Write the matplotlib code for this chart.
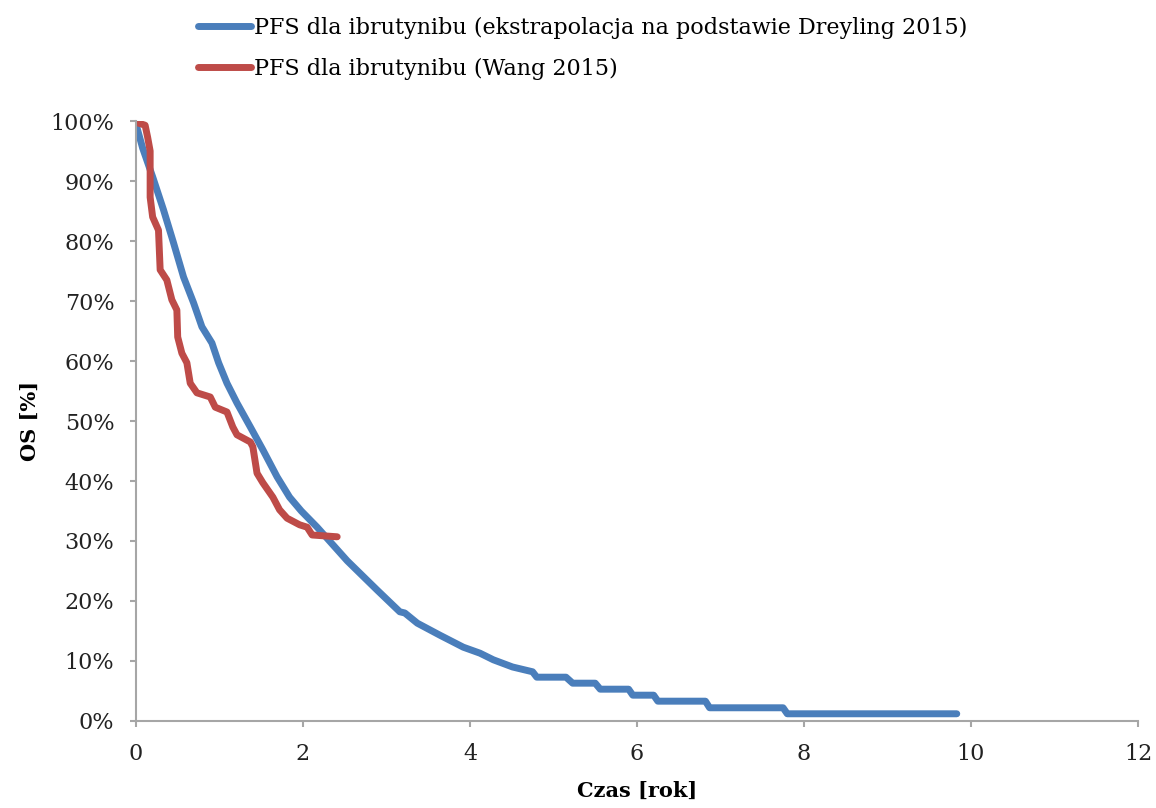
import matplotlib.pyplot as plt
from matplotlib.ticker import FuncFormatter

# czas [rok] i OS [%]
czas_dreyling = [0.0, 0.03, 0.08, 0.2, 0.33, 0.45, 0.57, 0.69, 0.79, 0.91, 0.99,
                 1.09, 1.21, 1.37, 1.52, 1.69, 1.84, 1.98, 2.17, 2.53, 2.89, 3.16,
                 3.22, 3.37, 3.64, 3.92, 4.12, 4.28, 4.51, 4.75, 4.8, 5.15, 5.23,
                 5.5, 5.56, 5.9, 5.95, 6.2, 6.25, 6.82, 6.87, 7.75, 7.8, 9.83]
os_dreyling = [99.5, 98.0, 95.5, 90.7, 85.2, 79.7, 74.0, 69.7, 65.7, 63.0, 59.7,
               56.3, 53.0, 49.0, 45.2, 40.7, 37.3, 35.0, 32.3, 26.7, 21.8, 18.2,
               18.0, 16.3, 14.3, 12.3, 11.3, 10.2, 9.0, 8.2, 7.3, 7.3, 6.3,
               6.3, 5.3, 5.3, 4.3, 4.3, 3.3, 3.3, 2.2, 2.2, 1.2, 1.2]

czas_wang = [0.0, 0.02, 0.11, 0.14, 0.17, 0.17, 0.17, 0.2, 0.27, 0.29, 0.37, 0.43,
             0.49, 0.5, 0.55, 0.61, 0.65, 0.73, 0.89, 0.95, 1.09, 1.16, 1.21,
             1.37, 1.4, 1.45, 1.52, 1.64, 1.72, 1.81, 1.96, 2.05, 2.11, 2.41]
os_wang = [100.0, 99.7, 99.3, 97.3, 95.0, 90.7, 87.3, 84.0, 81.8, 75.2, 73.5, 70.2,
           68.5, 64.0, 61.3, 59.7, 56.3, 54.7, 54.0, 52.3, 51.5, 49.0, 47.7,
           46.5, 45.7, 41.3, 39.7, 37.3, 35.2, 33.8, 32.7, 32.3, 31.0, 30.7]

etykiety = ['PFS dla ibrutynibu (ekstrapolacja na podstawie Dreyling 2015)',
            'PFS dla ibrutynibu (Wang 2015)']
kolory = ['#4a7ebb', '#be4b48']

plt.rcParams['font.family'] = ['DejaVu Serif']

fig = plt.figure(figsize=(11.56, 8.08), dpi=100)
ax = fig.add_axes([0.1176, 0.1077, 0.8668, 0.7425])

l1, = ax.plot(czas_dreyling, os_dreyling, color=kolory[0], lw=5,
              solid_capstyle='round', solid_joinstyle='round')
l2, = ax.plot(czas_wang, os_wang, color=kolory[1], lw=5,
              solid_capstyle='round', solid_joinstyle='round')

ax.set_xlim(0, 12)
ax.set_ylim(0, 100)
ax.set_xticks(range(0, 13, 2))
ax.set_yticks(range(0, 101, 10))
ax.yaxis.set_major_formatter(FuncFormatter(lambda v, p: '%d%%' % v))

for s in ['top', 'right']:
    ax.spines[s].set_visible(False)
for s in ['left', 'bottom']:
    ax.spines[s].set_color('#a6a6a6')
    ax.spines[s].set_linewidth(1.5)
ax.tick_params(colors='#a6a6a6', width=1.5, length=4.5, pad=11, labelsize=16,
               labelcolor='#222222', direction='out')

ax.set_xlabel('Czas [rok]', fontsize=15, fontweight='bold', labelpad=12)
ax.set_ylabel('OS [%]', fontsize=15, fontweight='bold', labelpad=8)

fig.legend([l1, l2], etykiety, loc='upper left', bbox_to_anchor=(0.154, 1.004),
           frameon=False, fontsize=16, handlelength=2.4, handletextpad=0.1,
           labelspacing=0.85)

fig.savefig('out.png', dpi=100)
